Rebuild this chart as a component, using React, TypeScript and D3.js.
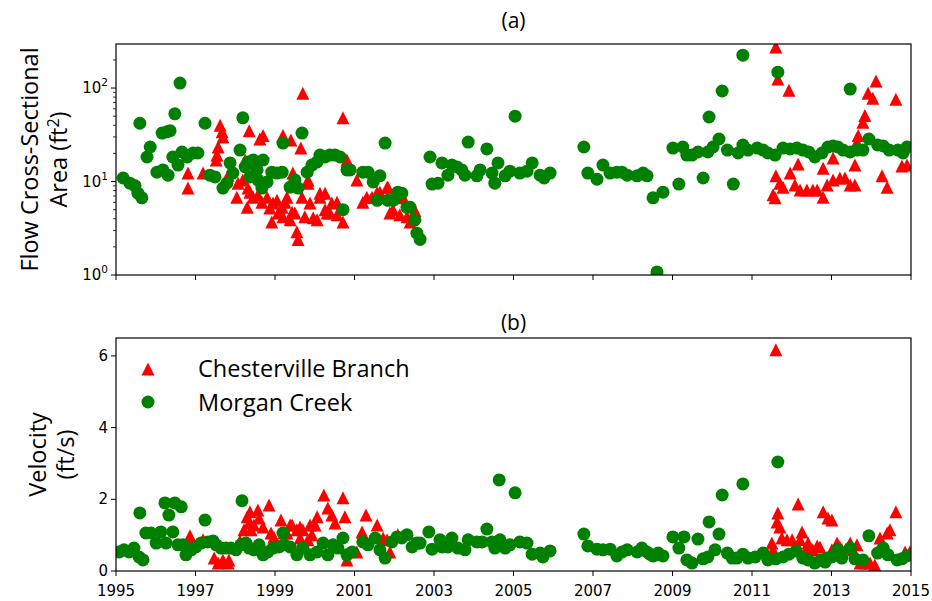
import React from "react";
import * as d3 from "d3";

// ---------- DATA ----------
const xTickYears = [1995, 1997, 1999, 2001, 2003, 2005, 2007, 2009, 2011, 2013, 2015];
const areaTickExps = [0, 1, 2];
const velocityTicks = [0, 2, 4, 6];
const seriesNames = ["Chesterville Branch", "Morgan Creek"];
const panelTitles = ["(a)", "(b)"];

// [decimal year, area ft^2]
const areaChester: [number, number][] = [
  [1996.81, 12.3], [1996.81, 8.5], [1997.19, 12.3], [1997.62, 40], [1997.67, 34], [1997.69, 30], [1997.57, 23.4],
  [1997.54, 19.2], [1997.52, 17], [1998.25, 17], [1998.35, 35], [1998.62, 28.5], [1998.7, 31], [1999.2, 31],
  [1999.4, 27.8], [1999.65, 22.8], [1999.7, 88], [2000.71, 48], [2000.81, 17], [2001.06, 10.4], [2001.21, 6.0],
  [2001.31, 6.8], [2001.57, 7.7], [2001.84, 8.7], [2001.89, 4.6],
  [1997.82, 11.7], [1998.04, 6.8], [1998.07, 9.6], [1998.19, 10.4], [1998.3, 5.3], [1998.32, 8.5], [1998.37, 7.7],
  [1998.45, 6.8], [1998.57, 7.2], [1998.67, 6.0], [1998.8, 6.8], [1998.87, 5.2], [1998.92, 3.7], [1998.95, 5.9],
  [1999.05, 6.3], [1999.08, 4.6], [1999.18, 5.3], [1999.2, 4.2], [1999.3, 6.8], [1999.38, 3.9], [1999.43, 4.7],
  [1999.5, 4.6], [1999.55, 2.9], [1999.58, 2.4], [1999.45, 12.3], [1999.68, 6.8], [1999.75, 4.2], [1999.83, 9.6],
  [1999.88, 5.9], [1999.96, 4.1], [2000.06, 3.9], [2000.13, 6.8], [2000.26, 7.5], [2000.26, 5.0], [2000.38, 4.6],
  [2000.43, 5.9], [2000.56, 6.0], [2000.56, 4.4], [2000.71, 3.7], [1999.25, 6.0], [1999.83, 10.4], [2000.13, 7.5],
  [2000.31, 4.6], [2001.44, 6.8], [2001.64, 7.7], [2001.82, 8.7], [2002.09, 6.7], [2002.32, 4.2], [2002.52, 4.9],
  [2002.45, 3.9], [2001.97, 5.0], [2002.14, 4.4], [2002.22, 6.8], [2002.4, 3.7],
  [2011.6, 275], [2011.65, 125], [2011.93, 95], [2011.6, 11.5], [2011.53, 7.2], [2011.58, 6.7], [2011.7, 9.6],
  [2011.78, 8.7], [2011.96, 12.3], [2012.16, 15.4], [2012.08, 9.2], [2012.21, 8.1], [2012.38, 8.1], [2012.53, 8.1],
  [2012.64, 8.1], [2012.79, 6.8], [2012.79, 13.9], [2012.89, 9.2], [2013.04, 17.8], [2013.04, 10.4], [2013.21, 10.9],
  [2013.34, 10.9], [2013.47, 9.2], [2013.59, 15], [2013.59, 9.2], [2013.67, 31], [2013.64, 26.4], [2013.79, 43],
  [2013.84, 51], [2013.92, 88], [2014.04, 78], [2014.12, 119], [2014.27, 11.5], [2014.4, 8.7], [2014.62, 76],
  [2014.77, 14.7], [2014.9, 15],
];

const areaMorgan: [number, number][] = [
  [1995.18, 10.9], [1995.35, 9.6], [1995.48, 9.0], [1995.55, 7.5], [1995.65, 6.7], [1995.6, 42], [1995.78, 18.3],
  [1995.86, 23.4], [1996.03, 12.6], [1996.18, 13.3], [1996.31, 11.7], [1996.16, 33], [1996.28, 34], [1996.36, 35],
  [1996.48, 53], [1996.61, 113], [1996.43, 18.3], [1996.56, 15], [1996.66, 20.7], [1996.79, 18.3], [1996.94, 20.2],
  [1997.06, 20.2], [1997.24, 42], [1997.36, 11.7], [1997.49, 11.2], [1997.69, 8.5], [1997.79, 9.6], [1997.87, 15.8],
  [1997.94, 12.3], [1998.12, 21.7], [1998.19, 48], [1998.25, 14.3], [1998.32, 16.2], [1998.45, 17], [1998.55, 13.3],
  [1998.7, 17], [1998.37, 11.2], [1998.57, 10.4], [1998.67, 8.5], [1998.8, 9.9], [1998.92, 12.6], [1999.05, 12.3],
  [1999.18, 12.6], [1999.2, 25.8], [1999.38, 8.7], [1999.5, 10.4], [1999.58, 8.5], [1999.68, 33], [1999.81, 12.6],
  [1999.93, 15], [2000.06, 16.2], [2000.13, 19.2], [2000.26, 18.3], [2000.38, 19.2], [2000.51, 19.2], [2000.64, 18.3],
  [2000.71, 5.0], [2000.81, 13.3], [2000.89, 13.3], [2001.21, 12.6], [2001.34, 12.6], [2001.47, 9.9], [2001.64, 11.5],
  [2001.57, 6.3], [2001.77, 25.8], [2001.84, 6.3], [2001.97, 6.3], [2002.09, 7.7], [2002.19, 7.5], [2002.32, 5.3],
  [2002.4, 5.3], [2002.52, 3.9], [2002.57, 2.8], [2002.65, 2.4], [2002.9, 18.3], [2002.95, 9.4], [2003.1, 9.6],
  [2003.2, 15.8], [2003.35, 11.7], [2003.45, 15], [2003.58, 14.3], [2003.7, 13.3], [2003.78, 11.7], [2003.86, 26.4],
  [2004.08, 11.5], [2004.16, 13.3], [2004.33, 22.3], [2004.46, 12.3], [2004.53, 9.6], [2004.61, 15.8], [2004.79, 11.5],
  [2004.91, 12.9], [2005.04, 50], [2005.16, 12.3], [2005.34, 12.9], [2005.47, 15.8], [2005.67, 11.7], [2005.77, 10.9],
  [2005.92, 12.3], [2006.77, 23.4], [2006.87, 12.3], [2007.1, 10.6], [2007.25, 15], [2007.43, 12.3], [2007.6, 12.6],
  [2007.73, 12.6], [2007.86, 11.7], [2008.11, 11.5], [2008.26, 12.3], [2008.36, 11.5], [2008.51, 6.7], [2008.61, 1.08],
  [2008.76, 7.7], [2009.01, 22.8], [2009.16, 9.4], [2009.26, 23.4], [2009.36, 19.2], [2009.49, 19.2], [2009.64, 20.7],
  [2009.77, 10.9], [2009.89, 20.7], [2009.92, 49], [2010.02, 23.4], [2010.17, 28.5], [2010.25, 93], [2010.38, 21.7],
  [2010.53, 9.4], [2010.65, 20.2], [2010.77, 225], [2010.77, 24.6], [2010.9, 21.7], [2011.13, 22.8], [2011.28, 21.7],
  [2011.4, 20.2], [2011.58, 19.2], [2011.65, 148], [2011.78, 22.8], [2011.96, 22.3], [2012.13, 22.8], [2012.28, 21.7],
  [2012.43, 20.7], [2012.58, 18.3], [2012.76, 20.2], [2012.91, 23.4], [2013.04, 24], [2013.16, 23.4], [2013.29, 21.7],
  [2013.47, 97.6], [2013.47, 20.7], [2013.64, 21.7], [2013.79, 21.7], [2013.94, 28.5], [2014.16, 24.6], [2014.3, 24],
  [2014.45, 21.7], [2014.67, 21.7], [2014.8, 20.2], [2014.9, 23.4],
];

// [decimal year, velocity ft/s]
const velChester: [number, number][] = [
  [1996.86, 0.98], [1996.89, 0.78], [1997.19, 0.87], [1997.47, 0.36], [1997.57, 0.22], [1997.69, 0.31], [1997.82, 0.22],
  [1997.84, 0.31], [1998.12, 0.84], [1998.22, 1.15], [1998.3, 1.51], [1998.35, 1.34], [1998.4, 1.15], [1998.37, 1.65],
  [1998.47, 1.28], [1998.57, 1.7], [1998.6, 1.48], [1998.7, 1.23], [1998.85, 1.84], [1998.9, 1.06], [1998.97, 0.95],
  [1999.15, 1.42], [1999.23, 1.06], [1999.38, 1.28], [1999.43, 1.28], [1999.55, 1.15], [1999.63, 1.23], [1999.7, 1.15],
  [1999.88, 1.28], [1999.93, 1.01], [2000.01, 1.28], [2000.06, 1.51], [2000.23, 2.12], [2000.33, 1.76], [2000.43, 1.56],
  [2000.51, 1.34], [2000.71, 2.04], [2000.76, 1.51], [2000.81, 0.31], [2001.06, 0.53], [2001.19, 1.09], [2001.29, 1.56],
  [2001.57, 1.28], [2001.72, 0.92], [2001.82, 0.87], [2001.89, 0.53], [2002.09, 1.01], [2002.47, 0.78], [1999.3, 1.06],
  [1999.63, 0.92], [1999.83, 0.87],
  [2011.5, 0.78], [2011.53, 0.59], [2011.63, 1.37], [2011.65, 1.62], [2011.6, 6.17], [2011.7, 1.23], [2011.75, 0.92],
  [2011.88, 0.87], [2012.01, 0.87], [2012.16, 1.87], [2012.21, 0.87], [2012.26, 1.09], [2012.41, 0.78], [2012.53, 0.59],
  [2012.71, 0.67], [2012.79, 1.65], [2012.91, 1.48], [2013.01, 1.42], [2013.01, 0.59], [2013.14, 0.78], [2013.26, 0.59],
  [2013.47, 0.78], [2013.54, 0.59], [2013.64, 0.73], [2013.72, 0.22], [2013.84, 0.22], [2013.97, 0.22], [2014.09, 0.17],
  [2014.22, 0.92], [2014.4, 1.06], [2014.47, 1.15], [2014.62, 1.65], [2014.85, 0.53], [2014.97, 0.53], [2012.38, 0.64],
  [2012.64, 0.7], [2013.21, 0.67],
];

const velMorgan: [number, number][] = [
  [1995.08, 0.53], [1995.2, 0.59], [1995.33, 0.53], [1995.45, 0.64], [1995.58, 0.39], [1995.68, 0.31], [1995.6, 1.62],
  [1995.75, 1.06], [1995.88, 1.06], [1996.01, 0.78], [1996.13, 1.09], [1996.26, 0.78], [1996.23, 1.9], [1996.33, 1.56],
  [1996.43, 1.09], [1996.48, 1.9], [1996.64, 1.79], [1996.56, 0.73], [1996.69, 0.73], [1996.76, 0.45], [1996.89, 0.59],
  [1997.01, 0.67], [1997.14, 0.78], [1997.24, 1.42], [1997.31, 0.81], [1997.44, 0.84], [1997.52, 0.73], [1997.64, 0.64],
  [1997.77, 0.64], [1997.89, 0.64], [1998.02, 0.59], [1998.17, 1.96], [1998.14, 0.73], [1998.27, 0.78], [1998.35, 0.64],
  [1998.47, 0.59], [1998.6, 0.73], [1998.7, 0.45], [1998.82, 0.53], [1998.95, 0.64], [1999.1, 0.67], [1999.23, 0.73],
  [1999.2, 1.06], [1999.38, 0.67], [1999.55, 0.45], [1999.7, 0.64], [1999.88, 0.45], [2000.06, 0.53], [2000.21, 0.78],
  [2000.33, 0.45], [2000.46, 0.73], [2000.58, 0.64], [2000.71, 0.92], [2000.81, 0.45], [2000.94, 0.53], [2001.21, 0.81],
  [2001.34, 0.73], [2001.52, 0.92], [2001.64, 0.59], [2001.77, 0.36], [2001.94, 0.81], [2002.07, 0.95], [2002.19, 0.92],
  [2002.32, 1.01], [2002.45, 0.67], [2002.57, 0.78], [2002.65, 0.78], [2002.87, 1.09], [2002.95, 0.61], [2003.15, 0.87],
  [2003.2, 0.67], [2003.35, 0.67], [2003.45, 0.92], [2003.6, 0.64], [2003.78, 0.59], [2003.86, 0.87], [2004.08, 0.81],
  [2004.21, 0.81], [2004.33, 1.17], [2004.46, 0.81], [2004.53, 0.64], [2004.66, 0.87], [2004.79, 0.64], [2004.91, 0.73],
  [2004.64, 2.54], [2005.04, 2.18], [2005.16, 0.81], [2005.34, 0.78], [2005.47, 0.47], [2005.67, 0.5], [2005.74, 0.39],
  [2005.92, 0.56], [2006.77, 1.03], [2006.87, 0.7], [2007.1, 0.61], [2007.25, 0.59], [2007.43, 0.61], [2007.6, 0.42],
  [2007.73, 0.53], [2007.86, 0.59], [2008.11, 0.53], [2008.23, 0.64], [2008.36, 0.53], [2008.51, 0.42], [2008.64, 0.5],
  [2008.43, 0.47], [2008.61, 0.45], [2008.76, 0.42], [2009.01, 0.95], [2009.16, 0.64], [2009.29, 0.95], [2009.36, 0.31],
  [2009.49, 0.22], [2009.64, 0.89], [2009.77, 0.34], [2009.89, 0.39], [2009.92, 1.37], [2010.07, 0.59], [2010.17, 1.03],
  [2010.25, 2.12], [2010.38, 0.5], [2010.5, 0.36], [2010.62, 0.36], [2010.77, 2.43], [2010.77, 0.47], [2010.9, 0.36],
  [2011.08, 0.39], [2011.28, 0.5], [2011.4, 0.31], [2011.6, 0.34], [2011.65, 3.04], [2011.78, 0.39], [2011.93, 0.47],
  [2012.11, 0.56], [2012.28, 0.36], [2012.41, 0.31], [2012.58, 0.22], [2012.74, 0.31], [2012.84, 0.25], [2012.89, 0.36],
  [2013.01, 0.39], [2013.14, 0.56], [2013.16, 0.59], [2013.26, 0.36], [2013.47, 0.64], [2013.59, 0.34], [2013.79, 0.31],
  [2013.94, 0.98], [2014.16, 0.5], [2014.3, 0.64], [2014.42, 0.45], [2014.65, 0.31], [2014.77, 0.34], [2014.9, 0.42],
];

// ---------- LAYOUT ----------
const W = 932;
const H = 601;
const X0 = 116;
const X1 = 911;
const TOP = { y0: 44, y1: 275 };
const BOT = { y0: 338, y1: 571 };
const RED = "#ff0000";
const GREEN = "#008000";
const MS = 13;
const FONT = "'DejaVu Sans', sans-serif";
const LFONT = "'Open Sans', 'DejaVu Sans', sans-serif";
const LSIZE = 23.5;

const x = d3.scaleLinear().domain([1995, 2015]).range([X0, X1]);
const yArea = d3.scaleLog().domain([1, 296]).range([TOP.y1, TOP.y0]);
const yVel = d3.scaleLinear().domain([0, 6.5]).range([BOT.y1, BOT.y0]);

const tri = (cx: number, cy: number, s: number) =>
  `M${cx},${cy - s / 2}L${cx + s / 2},${cy + s / 2}L${cx - s / 2},${cy + s / 2}Z`;

const minorLog: number[] = [];
for (const e of [0, 1, 2]) for (let m = 2; m <= 9; m++) { const v = m * Math.pow(10, e); if (v <= 296) minorLog.push(v); }

function XAxis({ y, labels }: { y: number; labels: boolean }) {
  return (
    <g>
      {xTickYears.map((t) => (
        <g key={t}>
          <line x1={x(t)} x2={x(t)} y1={y} y2={y + 5} stroke="#000" strokeWidth={1} />
          {labels && (
            <text x={x(t)} y={y + 25} textAnchor="middle" fontSize={15} fontFamily={FONT}>{t}</text>
          )}
        </g>
      ))}
    </g>
  );
}

export default function App() {
  return (
    <svg width={W} height={H} style={{ position: "absolute", left: 0, top: 0, background: "#fff" }}>
      <defs>
        <clipPath id="clipTop"><rect x={X0} y={TOP.y0} width={X1 - X0} height={TOP.y1 - TOP.y0} /></clipPath>
        <clipPath id="clipBot"><rect x={X0} y={BOT.y0} width={X1 - X0} height={BOT.y1 - BOT.y0} /></clipPath>
      </defs>

      {/* Titles */}
      <text x={(X0 + X1) / 2} y={28} textAnchor="middle" fontSize={21} fontFamily={LFONT}>{panelTitles[0]}</text>
      <text x={(X0 + X1) / 2} y={330} textAnchor="middle" fontSize={21} fontFamily={LFONT}>{panelTitles[1]}</text>

      {/* Top panel marks */}
      <g clipPath="url(#clipTop)">
        {areaChester.map((d, i) => (
          <path key={"ac" + i} d={tri(x(d[0]), yArea(d[1]), MS)} fill={RED} />
        ))}
        {areaMorgan.map((d, i) => (
          <circle key={"am" + i} cx={x(d[0])} cy={yArea(d[1])} r={MS / 2} fill={GREEN} />
        ))}
      </g>
      {/* Bottom panel marks */}
      <g clipPath="url(#clipBot)">
        {velChester.map((d, i) => (
          <path key={"vc" + i} d={tri(x(d[0]), yVel(d[1]), MS)} fill={RED} />
        ))}
        {velMorgan.map((d, i) => (
          <circle key={"vm" + i} cx={x(d[0])} cy={yVel(d[1])} r={MS / 2} fill={GREEN} />
        ))}
      </g>

      {/* Top frame & axes */}
      <rect x={X0} y={TOP.y0} width={X1 - X0} height={TOP.y1 - TOP.y0} fill="none" stroke="#000" strokeWidth={1.2} />
      <XAxis y={TOP.y1} labels={false} />
      {areaTickExps.map((e) => {
        const yy = yArea(Math.pow(10, e));
        return (
          <g key={"ae" + e}>
            <line x1={X0 - 5} x2={X0} y1={yy} y2={yy} stroke="#000" />
            <text x={X0 - 8} y={yy + 5} textAnchor="end" fontSize={15} fontFamily={FONT}>
              10<tspan dy={-7} fontSize={10.5}>{e}</tspan>
            </text>
          </g>
        );
      })}
      {minorLog.map((v) => (
        <line key={"mn" + v} x1={X0 - 3} x2={X0} y1={yArea(v)} y2={yArea(v)} stroke="#000" strokeWidth={0.8} />
      ))}
      <text transform={`translate(38,${(TOP.y0 + TOP.y1) / 2}) rotate(-90)`} textAnchor="middle" fontSize={LSIZE} fontFamily={LFONT}>
        Flow Cross-Sectional
      </text>
      <text transform={`translate(67,${(TOP.y0 + TOP.y1) / 2}) rotate(-90)`} textAnchor="middle" fontSize={LSIZE} fontFamily={LFONT}>
        Area (ft<tspan dy={-8} fontSize={16}>2</tspan><tspan dy={8}>)</tspan>
      </text>

      {/* Bottom frame & axes */}
      <rect x={X0} y={BOT.y0} width={X1 - X0} height={BOT.y1 - BOT.y0} fill="none" stroke="#000" strokeWidth={1.2} />
      <XAxis y={BOT.y1} labels={true} />
      {velocityTicks.map((t) => (
        <g key={"vt" + t}>
          <line x1={X0 - 5} x2={X0} y1={yVel(t)} y2={yVel(t)} stroke="#000" />
          <text x={X0 - 8} y={yVel(t) + 5} textAnchor="end" fontSize={15} fontFamily={FONT}>{t}</text>
        </g>
      ))}
      <text transform={`translate(46,${(BOT.y0 + BOT.y1) / 2}) rotate(-90)`} textAnchor="middle" fontSize={LSIZE} fontFamily={LFONT}>
        Velocity
      </text>
      <text transform={`translate(74,${(BOT.y0 + BOT.y1) / 2}) rotate(-90)`} textAnchor="middle" fontSize={LSIZE} fontFamily={LFONT}>
        (ft/s)
      </text>

      {/* Legend */}
      <path d={tri(148, 369, MS)} fill={RED} />
      <circle cx={148} cy={402} r={MS / 2} fill={GREEN} />
      <text x={198} y={377} fontSize={LSIZE} fontFamily={LFONT}>{seriesNames[0]}</text>
      <text x={198} y={411} fontSize={LSIZE} fontFamily={LFONT}>{seriesNames[1]}</text>
    </svg>
  );
}
